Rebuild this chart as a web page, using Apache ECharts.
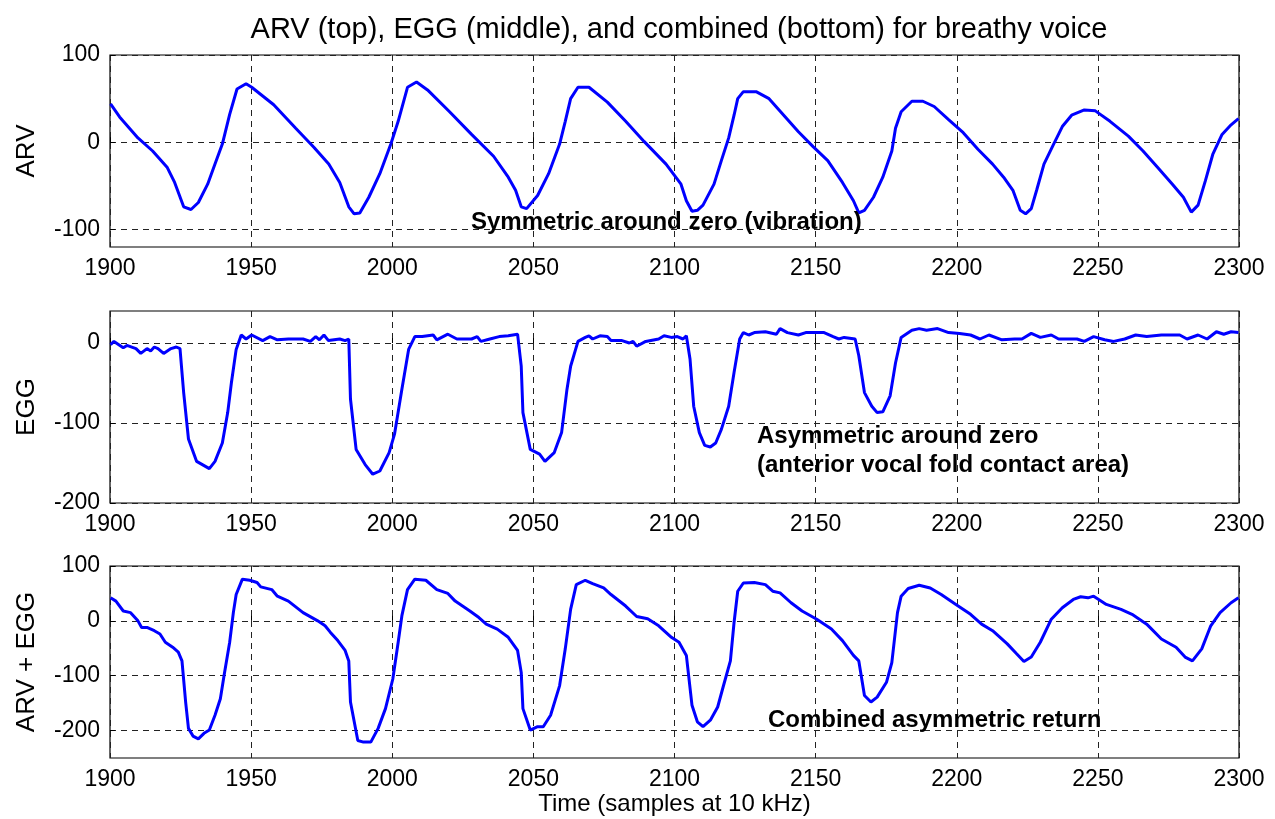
<!DOCTYPE html>
<html>
<head>
<meta charset="utf-8">
<script src="https://cdn.jsdelivr.net/npm/echarts@6/dist/echarts.min.js"></script>
<style>
  html, body { margin: 0; padding: 0; background: #fff; }
  #chart { width: 1275px; height: 819px; }
</style>
</head>
<body>
<div id="chart"></div>
<script>
// sample positions / values
const arvT = [1900.2, 1903.4, 1909.9, 1915.1, 1920.3, 1922.9, 1926.1, 1928.7, 1931.3, 1934.6, 1937.2, 1939.8, 1942.4, 1945, 1948.2, 1950.2, 1958, 1965.8, 1972.3, 1977.5, 1981.4, 1984.6, 1986.5, 1988.5, 1991.7, 1995.6, 1999.5, 2002.1, 2005.4, 2008.6, 2012.5, 2020.3, 2028.1, 2035.9, 2041.1, 2043.7, 2045.7, 2047.6, 2051.5, 2055.4, 2059.3, 2061.3, 2063.2, 2065.8, 2069.7, 2076.2, 2082.7, 2089.2, 2097, 2102.3, 2104.2, 2106.2, 2108.1, 2110.1, 2114, 2116.6, 2119.2, 2121.1, 2122.4, 2124.4, 2128.9, 2133.5, 2138.7, 2143.9, 2149.1, 2154.3, 2159.5, 2163.4, 2165.3, 2167.3, 2170.5, 2173.8, 2177, 2178.3, 2180.3, 2184.1, 2188, 2192, 2197.1, 2202.3, 2207.5, 2212.7, 2216.6, 2219.9, 2222.5, 2224.4, 2226.4, 2228.3, 2230.9, 2234.2, 2237.4, 2240.7, 2245.2, 2249.1, 2254.3, 2260.8, 2266, 2271.2, 2276.4, 2280.3, 2283.1, 2285.5, 2288.1, 2290.7, 2294, 2297.2, 2299.8];
const arvV = [44, 29, 5, -10, -29, -46, -74, -77, -69, -48, -25, -2, 32, 61, 67, 63, 43, 16, -6, -25, -46, -74, -82, -81, -63, -36, -2, 24, 63, 69, 60, 35, 9, -16, -40, -55, -74, -76, -61, -36, -2, 24, 50, 63, 63, 46, 24, 1, -25, -48, -67, -79, -78, -72, -48, -21, 5, 31, 50, 58, 58, 50, 31, 12, -5, -21, -46, -67, -81, -78, -63, -40, -10, 16, 35, 47, 47, 41, 26, 11, -8, -25, -40, -55, -78, -82, -76, -55, -25, -3, 18, 31, 37, 36, 24, 7, -10, -29, -48, -63, -80, -72, -44, -14, 9, 20, 27];

const eggT = [1900.2, 1901.4, 1904.7, 1906, 1909.2, 1910.9, 1913.1, 1914.4, 1915.7, 1917, 1919, 1921.6, 1923.5, 1924.8, 1926.1, 1927.8, 1930.7, 1935.2, 1937.2, 1939.8, 1941.7, 1943, 1944.7, 1946.5, 1948.2, 1950.2, 1954.1, 1956.7, 1959.3, 1963.2, 1968.4, 1971, 1972.9, 1974.2, 1975.8, 1977.4, 1981.4, 1983.3, 1984.6, 1985.2, 1987.2, 1990.4, 1993.1, 1995.6, 1998.9, 2000.8, 2003.4, 2005.8, 2008, 2010.6, 2014.5, 2015.8, 2019.7, 2022.9, 2028.1, 2030.1, 2031.4, 2034.6, 2037.9, 2041.1, 2044.4, 2045.7, 2046.3, 2048.9, 2052.2, 2054.1, 2057.4, 2060, 2061.9, 2063.2, 2065.8, 2068.4, 2069.7, 2071, 2073.6, 2076.2, 2077.5, 2081.4, 2084, 2085.3, 2086.6, 2089.8, 2094.4, 2096.3, 2098.9, 2101, 2103, 2104.2, 2105.5, 2106.8, 2108.8, 2110.7, 2112.7, 2114.6, 2116.6, 2119.2, 2121.1, 2123.1, 2124.4, 2126.3, 2128.3, 2132.2, 2136.1, 2137.4, 2140, 2143.9, 2146.5, 2153, 2156.2, 2158.2, 2160.1, 2164, 2165.3, 2167.3, 2169.9, 2171.8, 2173.8, 2176.4, 2178.3, 2180.3, 2184.1, 2186.7, 2189.3, 2193.2, 2197.1, 2201, 2204.9, 2208.2, 2211.4, 2216, 2220.5, 2223.1, 2226.4, 2229.6, 2233.5, 2236.1, 2242.6, 2245.2, 2248.5, 2252.4, 2255.6, 2259.5, 2263.4, 2267.3, 2272.5, 2279, 2281.6, 2285.5, 2288.7, 2292, 2294.6, 2297.2, 2299.8];
const eggV = [-2, 2, -6, -3, -7, -13, -7, -10, -5, -7, -13, -7, -5, -7, -62, -120, -148, -157, -148, -125, -87, -50, -8, 10, 5, 10, 3, 8, 4, 5, 5, 2, 8, 4, 10, 3, 5, 3, 5, -70, -133, -152, -164, -160, -137, -114, -58, -8, 8, 8, 10, 4, 11, 5, 5, 8, 2, 5, 8, 9, 11, -29, -87, -133, -139, -148, -137, -112, -58, -29, 2, 7, 9, 5, 9, 8, 3, 3, 0, 2, -4, 2, 5, 9, 7, 8, 5, 9, -20, -79, -112, -128, -130, -125, -108, -79, -37, 5, 13, 10, 13, 14, 11, 18, 13, 10, 13, 13, 8, 5, 7, 5, -16, -62, -79, -87, -86, -66, -25, 7, 16, 18, 16, 18, 13, 12, 10, 5, 10, 4, 5, 5, 12, 7, 10, 5, 5, 2, 8, 4, 2, 5, 10, 8, 10, 10, 5, 10, 5, 14, 11, 14, 13];

const sumT = [1900.2, 1902.1, 1904.7, 1907.3, 1909.9, 1911.2, 1913.1, 1915.7, 1917.7, 1919.6, 1922.2, 1924.2, 1925.5, 1926.8, 1927.8, 1929.4, 1931.3, 1933.3, 1935.2, 1937.2, 1939.1, 1940.4, 1942.4, 1943.7, 1944.7, 1946.9, 1949.5, 1952.1, 1953.4, 1957.3, 1959.3, 1963.2, 1968.4, 1973.6, 1976.2, 1978.1, 1980.7, 1983.3, 1984.6, 1985.2, 1987.8, 1989.8, 1992.4, 1995, 1997.6, 2000.2, 2002.1, 2003.4, 2005.4, 2008, 2011.9, 2015.8, 2019.7, 2022.3, 2027.5, 2030.7, 2033.3, 2037.2, 2041.1, 2044.4, 2045.7, 2046.3, 2048.9, 2051.5, 2053.5, 2056.1, 2059.3, 2061.3, 2063.2, 2065.2, 2068.4, 2071, 2074.9, 2077.5, 2082.7, 2086.6, 2090.5, 2094.4, 2098.9, 2101.6, 2104.2, 2106.2, 2108.1, 2110.1, 2112.7, 2115.3, 2117.2, 2119.8, 2121.1, 2122.4, 2124.4, 2128.3, 2132.2, 2134.8, 2137.4, 2141.3, 2145.2, 2150.4, 2155.6, 2159.5, 2163.4, 2165.3, 2167.3, 2169.6, 2171.8, 2175.1, 2177, 2179, 2180.3, 2182.8, 2186.7, 2190.6, 2194.5, 2199.7, 2204.9, 2208.8, 2212.7, 2217.9, 2221.2, 2223.8, 2226.4, 2229.6, 2233.5, 2237.4, 2241.3, 2243.9, 2246.5, 2248.5, 2253, 2258.2, 2262.1, 2267.3, 2272.5, 2277.7, 2280.9, 2283.5, 2286.8, 2290, 2293.3, 2297.2, 2299.8];
const sumV = [42, 36, 18, 15, 0, -12, -12, -18, -24, -39, -48, -57, -73, -148, -196, -210, -215, -205, -199, -172, -142, -100, -39, 15, 48, 76, 74, 70, 62, 57, 45, 36, 15, 0, -9, -21, -36, -54, -73, -148, -218, -221, -221, -196, -160, -106, -39, 9, 57, 76, 74, 57, 50, 36, 18, 6, -6, -15, -30, -54, -94, -160, -199, -193, -193, -172, -118, -51, 21, 66, 74, 68, 60, 48, 27, 8, 4, -9, -30, -39, -63, -154, -184, -193, -181, -157, -121, -73, -3, 54, 69, 70, 66, 54, 51, 33, 18, 3, -15, -36, -63, -73, -136, -148, -139, -112, -76, 15, 45, 59, 65, 60, 48, 30, 12, -6, -18, -42, -60, -74, -66, -39, 3, 24, 39, 44, 42, 45, 30, 21, 12, -6, -33, -48, -66, -73, -51, -9, 15, 33, 42];

const arvTicks = [-100, 0, 100];
const eggTicks = [-200, -100, 0];
const sumTicks = [-200, -100, 0, 100];

const FONT = 'Liberation Sans, Arial, sans-serif';

function pairs(t, v) {
  return t.map((x, i) => [x, v[i]]);
}

const grids = [
  { left: 110, right: 36, top: 55, height: 192 },
  { left: 110, right: 36, top: 311, height: 192 },
  { left: 110, right: 36, top: 566, height: 192 }
].map(g => Object.assign(g, { show: true, borderColor: '#000', borderWidth: 1.2, backgroundColor: '#fff' }));

const dashed = { show: true, lineStyle: { color: '#222', type: [6, 5], width: 1 } };

function xAxis(i) {
  const ax = {
    type: 'value', gridIndex: i, min: 1900, max: 2300, interval: 50,
    axisLine: { show: false },
    axisTick: { inside: true, length: 5, lineStyle: { color: '#000' } },
    axisLabel: { color: '#000', fontSize: 23, fontFamily: FONT, margin: 10, formatter: v => String(v) },
    splitLine: dashed
  };
  if (i === 2) {
    ax.name = 'Time (samples at 10 kHz)';
    ax.nameLocation = 'middle';
    ax.nameGap = 34;
    ax.nameTextStyle = { color: '#000', fontSize: 24, fontFamily: FONT };
  }
  return ax;
}

function yAxis(i, name, min, max, ticks) {
  return {
    type: 'value', gridIndex: i, min: min, max: max,
    name: name, nameLocation: 'middle', nameGap: 70,
    nameTextStyle: { color: '#000', fontSize: 26, fontFamily: FONT },
    axisLine: { show: false },
    axisTick: { inside: true, length: 5, customValues: ticks, lineStyle: { color: '#000' } },
    axisLabel: { color: '#000', fontSize: 23, fontFamily: FONT, margin: 10, customValues: ticks },
    splitLine: dashed
  };
}

function line(i, t, v) {
  return {
    type: 'line', xAxisIndex: i, yAxisIndex: i,
    data: pairs(t, v), showSymbol: false, symbol: 'none',
    lineStyle: { color: '#0000ff', width: 3 },
    z: 5
  };
}

const chart = echarts.init(document.getElementById('chart'));
chart.setOption({
  backgroundColor: '#fff',
  animation: false,
  title: {
    text: 'ARV (top), EGG (middle), and combined (bottom) for breathy voice',
    left: 674, top: 10, textAlign: 'center',
    textStyle: { color: '#000', fontSize: 29, fontWeight: 'normal', fontFamily: FONT }
  },
  grid: grids,
  xAxis: [xAxis(0), xAxis(1), xAxis(2)],
  yAxis: [
    yAxis(0, 'ARV', -120, 100, arvTicks),
    yAxis(1, 'EGG', -200, 40, eggTicks),
    yAxis(2, 'ARV + EGG', -250, 100, sumTicks)
  ],
  series: [line(0, arvT, arvV), line(1, eggT, eggV), line(2, sumT, sumV)],
  graphic: [
    { type: 'text', left: 471, top: 210, z: 10,
      style: { text: 'Symmetric around zero (vibration)', fill: '#000', font: 'bold 24px ' + FONT } },
    { type: 'text', left: 757, top: 424, z: 10,
      style: { text: 'Asymmetric around zero', fill: '#000', font: 'bold 24px ' + FONT } },
    { type: 'text', left: 757, top: 453, z: 10,
      style: { text: '(anterior vocal fold contact area)', fill: '#000', font: 'bold 24px ' + FONT } },
    { type: 'text', left: 768, top: 708, z: 10,
      style: { text: 'Combined asymmetric return', fill: '#000', font: 'bold 24px ' + FONT } }
  ]
});
</script>
</body>
</html>
